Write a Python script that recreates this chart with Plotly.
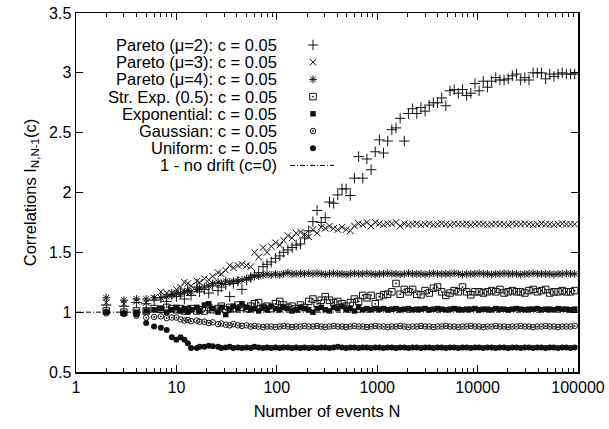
import plotly.graph_objects as go

# ---------------- data ----------------
N = [2, 3, 4, 5, 6, 7, 8, 9, 10, 11, 12, 13, 14, 16, 17, 19, 21, 23, 26, 28, 31, 34, 37, 41,
     45, 50, 55, 60, 66, 73, 80, 88, 97, 107, 117, 129, 142, 156, 172, 189, 208,
     229, 252, 277, 304, 335, 368, 405, 446, 490, 539, 593, 653, 718, 790, 869, 956,
     1051, 1156, 1272, 1399, 1539, 1693, 1862, 2048, 2253, 2479, 2726, 2999, 3299,
     3629, 3992, 4391, 4830, 5313, 5844, 6429, 7072, 7779, 8557, 9412,
     10354, 11389, 12528, 13781, 15159, 16675, 18343, 20177, 22195, 24414, 26856,
     29541, 32495, 35745, 39319, 43251, 47576, 52334, 57567, 63324, 69656, 76622,
     84284, 92712]

pareto2 = [1.06, 1.05, 1.08, 1.07, 1.10, 1.12, 1.09, 1.15,
           1.13, 1.16, 1.11, 1.18, 1.14,
           1.21, 1.17, 1.19, 1.16, 1.22,
           1.18, 1.21, 1.23, 1.13, 1.24, 1.26,
           1.19, 1.27, 1.29, 1.31, 1.33, 1.38, 1.40, 1.42, 1.45,
           1.47, 1.50, 1.52, 1.54, 1.56, 1.57, 1.62, 1.68,
           1.756, 1.85, 1.75, 1.79, 1.92, 1.91, 1.98, 2.03, 2.03, 1.975,
           2.12, 2.30, 2.12, 2.28, 2.19, 2.34, 2.44, 2.33, 2.43, 2.525,
           2.54, 2.62, 2.43, 2.66, 2.70, 2.66, 2.71, 2.68, 2.73, 2.75,
           2.75, 2.79, 2.725, 2.85, 2.86, 2.83, 2.86, 2.81, 2.83, 2.91,
           2.85, 2.93, 2.88, 2.93, 2.96, 2.94, 2.94, 2.95, 2.975, 2.99,
           2.94, 2.96, 2.94, 3.00, 3.00, 3.00, 2.95, 2.99, 2.97, 2.99,
           3.00, 2.99, 2.99, 2.99]

pareto3 = [1.08, 1.07, 1.09, 1.08, 1.12, 1.17, 1.16, 1.16,
           1.19, 1.21, 1.25, 1.24, 1.22,
           1.26, 1.25, 1.28, 1.27, 1.30,
           1.33, 1.32, 1.35, 1.39, 1.37, 1.39,
           1.40, 1.39, 1.38, 1.50, 1.46, 1.54, 1.50, 1.55, 1.58,
           1.56, 1.60, 1.64, 1.62, 1.66, 1.67, 1.65, 1.63,
           1.69, 1.66, 1.71, 1.70, 1.72, 1.70, 1.69, 1.71, 1.69, 1.68, 1.72,
           1.74, 1.73, 1.75, 1.72, 1.75, 1.74, 1.73, 1.74, 1.74, 1.75, 1.72,
           1.74, 1.73, 1.735, 1.74, 1.73, 1.735, 1.74, 1.73, 1.735, 1.74,
           1.735, 1.73, 1.74, 1.735, 1.735, 1.74, 1.73, 1.735, 1.74, 1.735,
           1.73, 1.735, 1.74, 1.735, 1.735, 1.73, 1.74, 1.735, 1.735, 1.74,
           1.735, 1.73, 1.735, 1.74, 1.735, 1.735, 1.73, 1.735, 1.74, 1.735,
           1.735, 1.735]

pareto4 = [1.12, 1.10, 1.11, 1.11, 1.12, 1.12, 1.13, 1.14,
           1.16, 1.15, 1.17, 1.18, 1.17,
           1.19, 1.20, 1.21, 1.22, 1.24,
           1.25, 1.24, 1.26, 1.25, 1.26, 1.26,
           1.27, 1.28, 1.29, 1.30, 1.30, 1.31, 1.32, 1.31, 1.32,
           1.31, 1.32, 1.33, 1.32, 1.32, 1.325, 1.32, 1.325,
           1.32, 1.325, 1.32, 1.315, 1.32, 1.325, 1.32, 1.32, 1.315, 1.32, 1.325,
           1.32, 1.32, 1.325, 1.32, 1.315, 1.32, 1.32, 1.325, 1.32, 1.32, 1.315,
           1.32, 1.325, 1.32, 1.32, 1.32, 1.315, 1.32, 1.325, 1.32, 1.32,
           1.32, 1.32, 1.325, 1.32, 1.315, 1.32, 1.32, 1.32, 1.325, 1.32,
           1.32, 1.315, 1.32, 1.32, 1.325, 1.32, 1.32, 1.32, 1.315, 1.32,
           1.32, 1.325, 1.32, 1.32, 1.32, 1.32, 1.315, 1.32, 1.32, 1.325,
           1.32, 1.32]

strexp = [1.01, 1.00, 1.01, 1.01, 1.03, 1.025, 1.04, 1.03,
          1.02, 1.03, 1.01, 1.02, 1.03,
          1.01, 1.02, 1.01, 1.04, 1.02,
          1.03, 1.05, 1.02, 1.04, 1.03, 1.06,
          1.04, 1.03, 1.05, 1.07, 1.08, 1.04, 1.05, 1.03, 1.07,
          1.09, 1.06, 1.04, 1.05, 1.03, 1.06, 1.04, 1.09,
          1.11, 1.07, 1.10, 1.13, 1.10, 1.08, 1.09, 1.07, 1.05, 1.08, 1.11,
          1.09, 1.14, 1.12, 1.14, 1.07, 1.13, 1.145, 1.15, 1.17, 1.24, 1.15,
          1.19, 1.17, 1.19, 1.15, 1.145, 1.18, 1.16, 1.20, 1.21,
          1.17, 1.14, 1.16, 1.18, 1.17, 1.21, 1.17, 1.145, 1.17,
          1.17, 1.16, 1.17, 1.18, 1.17, 1.19, 1.16, 1.17, 1.18, 1.17,
          1.17, 1.16, 1.18, 1.19, 1.17, 1.18, 1.19, 1.16, 1.17, 1.17,
          1.18, 1.17, 1.17, 1.18]

expo = [1.00, 0.99, 1.00, 1.01, 1.02, 1.03, 1.00, 1.02,
        1.04, 1.01, 1.03, 1.00, 1.02,
        1.04, 1.01, 1.06, 1.07, 1.03,
        1.00, 1.04, 0.98, 1.02, 1.05, 1.03,
        1.07, 1.04, 1.02, 1.03, 1.01, 1.04, 1.02, 1.05, 1.03,
        1.02, 1.04, 1.03, 1.01, 1.02, 1.04, 1.03, 1.02,
        1.00, 1.03, 1.04, 1.02, 1.01, 1.04, 1.03, 1.05, 1.02, 1.03, 1.01,
        1.04, 1.02, 1.03, 1.02, 1.03, 1.025, 1.03, 1.02, 1.025, 1.03, 1.02,
        1.025, 1.03, 1.02, 1.025, 1.025, 1.03, 1.02, 1.025, 1.03, 1.025,
        1.02, 1.025, 1.03, 1.025, 1.02, 1.025, 1.025, 1.03, 1.02, 1.025,
        1.025, 1.02, 1.03, 1.025, 1.025, 1.02, 1.025, 1.03, 1.025, 1.02,
        1.025, 1.025, 1.03, 1.02, 1.025, 1.025, 1.02, 1.03, 1.025, 1.025,
        1.02, 1.025]

gauss = [0.99, 0.985, 0.97, 0.955, 0.96, 0.965, 0.95, 0.955,
         0.955, 0.94, 0.93, 0.935, 0.925,
         0.93, 0.92, 0.92, 0.91, 0.915,
         0.90, 0.905, 0.895, 0.89, 0.90, 0.89,
         0.885, 0.89, 0.88, 0.885, 0.88, 0.875, 0.88, 0.88, 0.875,
         0.88, 0.885, 0.88, 0.875, 0.88, 0.88, 0.885, 0.88,
         0.88, 0.885, 0.88, 0.875, 0.88, 0.885, 0.88, 0.88, 0.875, 0.88, 0.885,
         0.88, 0.88, 0.875, 0.88, 0.885, 0.88, 0.88, 0.875, 0.88, 0.88, 0.885,
         0.88, 0.875, 0.88, 0.88, 0.885, 0.88, 0.88, 0.875, 0.88, 0.88,
         0.885, 0.88, 0.88, 0.875, 0.88, 0.88, 0.885, 0.88, 0.88, 0.875,
         0.88, 0.88, 0.885, 0.88, 0.88, 0.875, 0.88, 0.88, 0.885, 0.88,
         0.88, 0.875, 0.88, 0.88, 0.885, 0.88, 0.88, 0.875, 0.88, 0.88,
         0.88, 0.885]

uniform = [1.00, 0.99, 0.98, 0.91, 0.88, 0.87, 0.85, 0.79,
           0.77, 0.79, 0.77, 0.74, 0.70,
           0.70, 0.71, 0.71, 0.72, 0.715,
           0.71, 0.70, 0.705, 0.71, 0.70, 0.705,
           0.70, 0.705, 0.70, 0.71, 0.705, 0.70, 0.705, 0.70, 0.705,
           0.70, 0.705, 0.705, 0.70, 0.705, 0.70, 0.705, 0.70,
           0.705, 0.70, 0.705, 0.705, 0.70, 0.705, 0.71, 0.705, 0.70, 0.705, 0.705,
           0.70, 0.705, 0.705, 0.70, 0.705, 0.705, 0.70, 0.705, 0.705, 0.70, 0.705,
           0.705, 0.70, 0.705, 0.705, 0.70, 0.705, 0.705, 0.70, 0.705, 0.705,
           0.70, 0.705, 0.705, 0.70, 0.705, 0.705, 0.70, 0.705, 0.705, 0.70,
           0.705, 0.705, 0.70, 0.705, 0.705, 0.70, 0.705, 0.705, 0.70, 0.705,
           0.705, 0.70, 0.705, 0.705, 0.70, 0.705, 0.705, 0.70, 0.705, 0.705,
           0.70, 0.705]

nodrift_x = [1, 100000]
nodrift_y = [1, 1]

labels = ["Pareto (\u03bc=2): c = 0.05", "Pareto (\u03bc=3): c = 0.05", "Pareto (\u03bc=4): c = 0.05",
          "Str. Exp. (0.5): c = 0.05", "Exponential: c = 0.05", "Gaussian: c = 0.05",
          "Uniform: c = 0.05", "1 - no drift (c=0)"]

xtick_vals = [1, 10, 100, 1000, 10000, 100000]
xtick_text = ["1", "10", "100", "1000", "10000", "100000"]
ytick_vals = [0.5, 1, 1.5, 2, 2.5, 3, 3.5]
ytick_text = ["0.5", "1", "1.5", "2", "2.5", "3", "3.5"]

series = [pareto2, pareto3, pareto4, strexp, expo, gauss, uniform]
for s in series:
    assert len(s) == len(N), len(s)

# ---------------- styling ----------------
FONT = "Liberation Sans, Arial, Helvetica, sans-serif"
FS = 16.5
TICK_FS = 16
INK = "#000000"
MARK = "#111111"
styles = [
    dict(symbol="cross-thin-open", size=7.5, line=dict(width=1, color=MARK)),
    dict(symbol="x-thin-open", size=6.5, line=dict(width=1, color=MARK)),
    dict(symbol="asterisk-open", size=6.5, line=dict(width=1, color=MARK)),
    dict(symbol="square-open", size=6.5, line=dict(width=1, color=MARK)),
    dict(symbol="square", size=5.5, line=dict(width=0)),
    dict(symbol="circle-open", size=5.5, line=dict(width=1, color=MARK)),
    dict(symbol="circle", size=6, line=dict(width=0)),
]
center_dot = [False, False, False, True, False, True, False]
DASH = "5px,2px,1px,2px"

# plot area in pixels (for the key block)
L, R, T, B = 76, 578, 13, 372
W, H = 609, 429

fig = go.Figure()

for s, st, dot in zip(series, styles, center_dot):
    fig.add_trace(go.Scatter(x=N, y=s, mode="markers", marker=dict(color=MARK, **st),
                             showlegend=False, hoverinfo="skip"))
    if dot:
        fig.add_trace(go.Scatter(x=N, y=s, mode="markers",
                                 marker=dict(symbol="circle", size=1.8, color=MARK),
                                 showlegend=False, hoverinfo="skip"))

fig.add_trace(go.Scatter(x=nodrift_x, y=nodrift_y, mode="lines",
                         line=dict(color=INK, width=1, dash=DASH),
                         showlegend=False, hoverinfo="skip"))

# ---------------- key (text left, sample right) ----------------
key_top = 45
key_step = 17.2
key_text_right = 278
key_sym_x = 313
key_line = (290, 334)
annotations = []
for i, lab in enumerate(labels):
    yy = key_top + i * key_step
    annotations.append(dict(x=key_text_right, y=yy, xref="x2", yref="y2", text=lab,
                            showarrow=False, xanchor="right", yanchor="middle", borderpad=0,
                            font=dict(family=FONT, size=FS, color=INK)))
    if i < len(styles):
        fig.add_trace(go.Scatter(x=[key_sym_x], y=[yy], xaxis="x2", yaxis="y2", mode="markers",
                                 marker=dict(color=MARK, **styles[i]),
                                 showlegend=False, hoverinfo="skip"))
        if center_dot[i]:
            fig.add_trace(go.Scatter(x=[key_sym_x], y=[yy], xaxis="x2", yaxis="y2", mode="markers",
                                     marker=dict(symbol="circle", size=1.8, color=MARK),
                                     showlegend=False, hoverinfo="skip"))
    else:
        fig.add_trace(go.Scatter(x=list(key_line), y=[yy, yy], xaxis="x2", yaxis="y2", mode="lines",
                                 line=dict(color=INK, width=1, dash=DASH),
                                 showlegend=False, hoverinfo="skip"))

fig.update_layout(
    template="none",
    width=W, height=H, autosize=False,
    margin=dict(l=L, r=W - R, t=T, b=H - B, pad=0, autoexpand=False),
    paper_bgcolor="white", plot_bgcolor="white",
    font=dict(family=FONT, size=FS, color=INK),
    annotations=annotations,
    xaxis=dict(type="log", range=[0, 5], tickvals=xtick_vals, ticktext=xtick_text,
               ticks="inside", ticklen=7, tickwidth=1, tickcolor=INK, automargin=False,
               minor=dict(ticks="inside", ticklen=4, tickwidth=1, tickcolor=INK,
                          tickvals=[m * d for d in [1, 10, 100, 1000, 10000] for m in range(2, 10)]),
               showline=True, linecolor=INK, linewidth=1.5, mirror="ticks",
               showgrid=False, zeroline=False,
               title=dict(text="Number of events N", font=dict(size=FS), standoff=10),
               tickfont=dict(size=TICK_FS)),
    yaxis=dict(range=[0.5, 3.5], tickvals=ytick_vals, ticktext=ytick_text,
               ticks="inside", ticklen=7, tickwidth=1, tickcolor=INK, automargin=False,
               showline=True, linecolor=INK, linewidth=1.5, mirror="ticks",
               showgrid=False, zeroline=False,
               title=dict(text="Correlations I<sub>N,N-1</sub>(c)", font=dict(size=FS), standoff=8),
               tickfont=dict(size=TICK_FS)),
    xaxis2=dict(overlaying="x", range=[L, R], visible=False, anchor="y2"),
    yaxis2=dict(overlaying="y", range=[B, T], visible=False, anchor="x2"),
)

fig.write_html("out.html", config={"displayModeBar": False, "staticPlot": True},
               post_script="document.body.style.margin='0';document.body.style.overflow='hidden';")
